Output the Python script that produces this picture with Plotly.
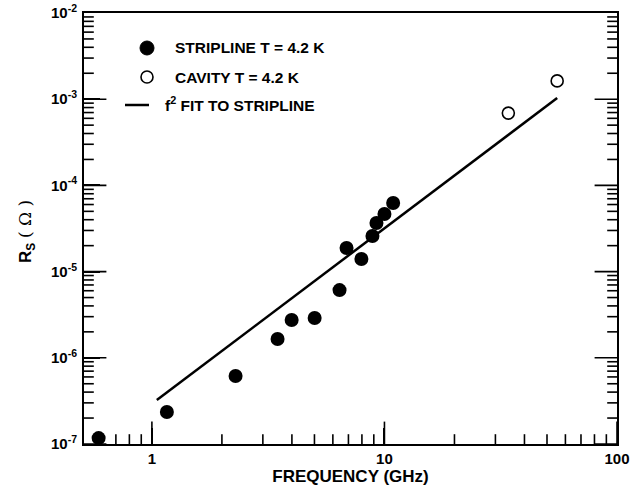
import plotly.graph_objects as go

# Data
strip_f = [0.59, 1.16, 2.29, 3.47, 3.99, 5.01, 6.41, 6.87, 7.96, 8.88, 9.24, 10.0, 10.9]
strip_rs = [1.17e-7, 2.35e-7, 6.15e-7, 1.65e-6, 2.75e-6, 2.9e-6, 6.1e-6, 1.88e-5, 1.4e-5, 2.59e-5, 3.66e-5, 4.66e-5, 6.25e-5]
cav_f = [34.1, 55.3]
cav_rs = [6.9e-4, 1.63e-3]
fit_f = [1.05, 55.3]
fit_rs = [3.24e-7, 1.03e-3]

x_major = [1, 10, 100]
x_major_text = ["1", "10", "100"]
x_minor = [0.6, 0.7, 0.8, 0.9, 2, 3, 4, 5, 6, 7, 8, 9, 20, 30, 40, 50, 60, 70, 80, 90]
y_major = [1e-7, 1e-6, 1e-5, 1e-4, 1e-3, 1e-2]
y_major_text = ["10<sup>-7</sup>", "10<sup>-6</sup>", "10<sup>-5</sup>", "10<sup>-4</sup>", "10<sup>-3</sup>", "10<sup>-2</sup>"]
y_minor = [m * 10 ** e for e in range(-7, -2) for m in range(2, 10)]

legend_labels = ["STRIPLINE T = 4.2 K", "CAVITY T = 4.2 K", "f<sup>2</sup> FIT TO STRIPLINE"]

FONT = "Liberation Sans, Arial, Helvetica, sans-serif"
XR = [-0.292, 2.0]
YR = [-7, -2]
x_lo, x_hi = 10 ** XR[0], 10 ** XR[1]
y_lo, y_hi = 10 ** YR[0], 10 ** YR[1]

MAJ, MIN, TW = 16, 7, 1.6

fig = go.Figure()

# Inside tick marks: line markers centred on the frame, clipped to the plot area
def tick_trace(xs, ys, symbol, length):
    return go.Scatter(x=xs, y=ys, mode="markers", cliponaxis=True, hoverinfo="skip",
                      showlegend=False,
                      marker=dict(symbol=symbol, size=2 * length, color="black",
                                  line=dict(color="black", width=TW)))

for vals, ln in ((x_major, MAJ), (x_minor, MIN)):
    fig.add_trace(tick_trace(vals, [y_lo] * len(vals), "line-ns", ln))
    fig.add_trace(tick_trace(vals, [y_hi] * len(vals), "line-ns", ln))
for vals, ln in ((y_major, MAJ), (y_minor, MIN)):
    fig.add_trace(tick_trace([x_lo] * len(vals), vals, "line-ew", ln))
    fig.add_trace(tick_trace([x_hi] * len(vals), vals, "line-ew", ln))

fig.add_trace(go.Scatter(x=fit_f, y=fit_rs, mode="lines",
                         line=dict(color="black", width=2.5), showlegend=False, hoverinfo="skip"))
fig.add_trace(go.Scatter(x=strip_f, y=strip_rs, mode="markers", cliponaxis=False,
                         marker=dict(symbol="circle", size=14, color="black"), showlegend=False))
fig.add_trace(go.Scatter(x=cav_f, y=cav_rs, mode="markers",
                         marker=dict(symbol="circle-open", size=12, color="black", line=dict(width=1.6)),
                         showlegend=False))

L, R, T, B = 84, 27, 13, 53
W, H = 644, 497
pw, ph = W - L - R, H - T - B

def px(xp):
    return (xp - L) / pw

def py(yp):
    return 1 - (yp - T) / ph

# Manual legend
shapes = []
r1 = 7
shapes.append(dict(type="circle", xref="paper", yref="paper",
                   x0=px(147 - r1), x1=px(147 + r1), y0=py(48 + r1), y1=py(48 - r1),
                   fillcolor="black", line=dict(color="black", width=1)))
r2 = 6
shapes.append(dict(type="circle", xref="paper", yref="paper",
                   x0=px(147 - r2), x1=px(147 + r2), y0=py(77 + r2), y1=py(77 - r2),
                   fillcolor="white", line=dict(color="black", width=1.6)))
shapes.append(dict(type="line", xref="paper", yref="paper",
                   x0=px(125), x1=px(149), y0=py(105), y1=py(105),
                   line=dict(color="black", width=2.5)))

annotations = []
for lbl, xs, ys in zip(legend_labels, [173, 173, 163], [48, 77, 104]):
    annotations.append(dict(text=lbl, xref="paper", yref="paper", x=px(xs), y=py(ys),
                            xanchor="left", yanchor="middle", showarrow=False,
                            font=dict(family=FONT, size=15.5, color="black", weight="bold")))

annotations.append(dict(text="R<sub>S</sub> <span style='font-family:DejaVu Serif;font-weight:normal'>( Ω )</span>",
                        xref="paper", yref="paper", x=px(27), y=py(232),
                        textangle=-90, showarrow=False, xanchor="center", yanchor="middle",
                        font=dict(family=FONT, size=17, color="black", weight="bold")))

axis_common = dict(type="log", showline=True, linecolor="black", linewidth=2,
                   mirror=True, ticks="inside", ticklen=MAJ, tickwidth=TW, tickcolor="black",
                   showgrid=False, zeroline=False, automargin=False,
                   tickfont=dict(family=FONT, size=15, color="black", weight="bold"))

fig.update_layout(
    xaxis=dict(**axis_common, range=XR, tickmode="array", tickvals=x_major, ticktext=x_major_text,
               title=dict(text="FREQUENCY (GHz)", standoff=4,
                          font=dict(family=FONT, size=17, color="black", weight="bold"))),
    yaxis=dict(**axis_common, range=YR, tickmode="array", tickvals=y_major, ticktext=y_major_text,
               ticklabelstandoff=2),
)

fig.update_layout(width=W, height=H, margin=dict(l=L, r=R, t=T, b=B),
                  plot_bgcolor="white", paper_bgcolor="white",
                  shapes=shapes, annotations=annotations, showlegend=False)

fig.write_html("out.html", config={"displayModeBar": False},
               post_script="document.body.style.margin='0';document.body.style.padding='0';")
